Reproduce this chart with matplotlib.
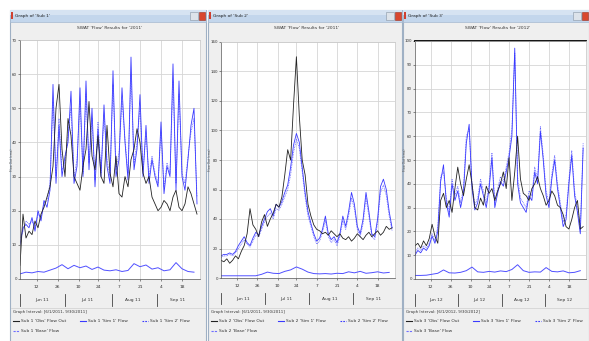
import matplotlib.pyplot as plt
from matplotlib.patches import Rectangle
from matplotlib.lines import Line2D

W, H = 589, 341

# x values (days from 1 June)
days = list(range(0, 120, 2))
low_days = list(range(0, 120, 4))

tick_days = [11, 25, 39, 52, 66, 80, 94, 108]
tick_labels = ["12", "26", "10", "24", "7", "21", "4", "18"]
month_edges = [0, 30, 61, 91]
month_mids = [15, 45, 75, 105]

# window 1
obs_1 = [4, 19, 12, 14, 13, 17, 15, 19, 21, 24, 27, 33, 50, 57, 38, 30, 47, 42, 30, 28,
         26, 33, 38, 52, 36, 32, 42, 30, 28, 45, 31, 27, 36, 25, 24, 30, 27, 35, 38, 44,
         40, 31, 28, 30, 24, 22, 20, 21, 23, 22, 20, 24, 26, 21, 20, 22, 27, 25, 22, 19]
sim1_1 = [10, 15, 16, 15, 18, 14, 20, 17, 23, 21, 26, 57, 28, 45, 30, 36, 40, 55, 28, 33,
          56, 30, 58, 32, 50, 27, 44, 30, 51, 33, 28, 61, 30, 35, 56, 40, 29, 65, 32, 38,
          54, 30, 45, 28, 35, 30, 27, 46, 25, 33, 30, 63, 26, 58, 30, 26, 35, 45, 50, 22]
sim2_1 = [12, 14, 17, 16, 17, 15, 19, 18, 22, 23, 28, 52, 30, 47, 32, 34, 42, 50, 30, 35,
          52, 31, 54, 34, 47, 29, 46, 31, 48, 35, 30, 57, 32, 37, 52, 41, 31, 60, 34, 40,
          50, 32, 42, 30, 36, 31, 28, 43, 27, 34, 31, 58, 28, 54, 31, 28, 36, 43, 47, 24]
base_1 = [1.5, 2.0, 1.8, 2.2, 2.0, 2.6, 3.2, 4.2, 3.0, 4.0, 3.3, 3.8, 2.8, 3.5, 2.6,
          2.4, 2.7, 2.2, 2.5, 4.5, 3.6, 4.1, 2.9, 3.3, 2.4, 2.7, 4.8, 3.0, 2.2, 2.0]

# window 2
obs_2 = [12, 11, 13, 10, 12, 15, 13, 18, 22, 30, 47, 36, 33, 28, 38, 43, 35, 40, 44, 50,
         48, 55, 70, 87, 80, 117, 150, 110, 80, 70, 50, 42, 36, 33, 32, 30, 31, 29, 32, 30,
         28, 30, 27, 26, 28, 25, 27, 30, 28, 26, 29, 31, 28, 30, 32, 29, 31, 35, 33, 34]
sim1_2 = [15, 16, 16, 17, 16, 18, 22, 25, 28, 24, 22, 27, 31, 29, 35, 40, 45, 47, 42, 50,
          48, 52, 58, 63, 75, 90, 98, 92, 75, 58, 45, 37, 30, 25, 27, 33, 42, 30, 26, 28,
          24, 30, 42, 35, 45, 58, 50, 35, 30, 40, 58, 45, 30, 28, 40, 62, 67, 60, 45, 34]
sim2_2 = [14, 15, 15, 16, 15, 17, 20, 23, 26, 23, 21, 25, 29, 28, 33, 38, 42, 44, 40, 47,
          46, 50, 55, 60, 70, 85, 94, 88, 72, 55, 42, 35, 28, 23, 25, 31, 39, 28, 24, 26,
          22, 28, 39, 33, 42, 54, 47, 33, 28, 37, 54, 42, 28, 26, 37, 58, 63, 56, 42, 32]
base_2 = [1.5, 1.5, 1.5, 1.5, 1.5, 1.5, 1.5, 2.5, 4.0, 3.2, 3.0, 4.5, 5.5, 7.5, 6.0,
          4.0, 3.0, 2.8, 3.0, 2.7, 3.2, 3.0, 4.2, 3.5, 4.5, 3.2, 3.6, 4.2, 3.4, 3.8]

# window 3
obs_3 = [14, 15, 13, 16, 14, 17, 23, 18, 15, 33, 36, 30, 33, 28, 38, 47, 40, 35, 42, 48,
         40, 30, 29, 34, 31, 39, 36, 38, 33, 37, 40, 45, 38, 51, 33, 45, 60, 42, 36, 35,
         33, 38, 40, 43, 38, 35, 31, 33, 37, 35, 31, 30, 27, 22, 21, 25, 30, 33, 21, 22]
sim1_3 = [10, 12, 11, 13, 12, 14, 18, 15, 20, 41, 48, 32, 26, 40, 33, 37, 30, 36, 57, 65,
          38, 29, 32, 40, 35, 30, 38, 51, 30, 36, 41, 39, 45, 51, 60, 97, 40, 32, 30, 28,
          35, 33, 45, 40, 62, 50, 35, 30, 42, 50, 38, 30, 22, 25, 40, 52, 35, 28, 19, 55]
sim2_3 = [11, 13, 12, 14, 13, 15, 19, 16, 22, 43, 45, 34, 28, 42, 35, 39, 32, 38, 60, 63,
          40, 31, 34, 42, 37, 32, 40, 53, 32, 38, 43, 41, 47, 53, 63, 95, 43, 34, 32, 30,
          37, 35, 47, 42, 64, 52, 37, 32, 44, 52, 40, 32, 24, 27, 42, 54, 37, 30, 21, 57]
base_3 = [1.5, 1.5, 1.6, 2.0, 2.4, 3.8, 2.6, 2.5, 2.8, 3.5, 5.0, 3.0, 2.8, 3.2, 2.9,
          3.4, 3.1, 4.0, 6.0, 3.5, 2.8, 3.0, 2.9, 4.8, 3.2, 3.0, 3.4, 2.6, 2.8, 3.5]

windows = [
    dict(n=1, win=(10, 206), ax=(20, 40, 200, 279), ymax=70, ystep=10,
         obs=obs_1, sim1=sim1_1, sim2=sim2_1, base=base_1,
         months=["Jun 11", "Jul 11", "Aug 11", "Sep 11"], year="2011"),
    dict(n=2, win=(208, 402), ax=(221, 42, 395, 278), ymax=160, ystep=20,
         obs=obs_2, sim1=sim1_2, sim2=sim2_2, base=base_2,
         months=["Jun 11", "Jul 11", "Aug 11", "Sep 11"], year="2011"),
    dict(n=3, win=(403, 589), ax=(415, 41, 586, 279), ymax=100, ystep=10,
         obs=obs_3, sim1=sim1_3, sim2=sim2_3, base=base_3,
         months=["Jun 12", "Jul 12", "Aug 12", "Sep 12"], year="2012"),
]

fig = plt.figure(figsize=(W / 100, H / 100), dpi=100)
fig.patch.set_facecolor('white')


def box(x0, y0, x1, y1, **kw):
    r = Rectangle((x0 / W, 1 - y1 / H), (x1 - x0) / W, (y1 - y0) / H,
                  transform=fig.transFigure, zorder=-5, **kw)
    fig.add_artist(r)


def fline(x0, y0, x1, y1, **kw):
    fig.add_artist(Line2D([x0 / W, x1 / W], [1 - y0 / H, 1 - y1 / H],
                          transform=fig.transFigure, **kw))


def ftext(x, y, s, **kw):
    fig.text(x / W, 1 - y / H, s, **kw)


blue = '#3a3aff'
fs = 3.2

for w in windows:
    wl, wr = w['win']
    # window frame
    box(wl, 10, wr, 345, facecolor='#efefef', edgecolor='#9fb0c4', lw=0.8)
    box(wl, 10, wr, 22, facecolor='#c3d6ec', edgecolor='#a6b9d0', lw=0.5)
    box(wl, 10, wr, 15, facecolor='#d6e3f2', edgecolor='none')
    box(wl + 1, 12, wl + 3, 19, facecolor='#d04030', edgecolor='none')
    box(wr - 16, 12, wr - 8, 20, facecolor='#dde3ea', edgecolor='#8895a5', lw=0.4)
    box(wr - 7, 12, wr - 1, 20, facecolor='#d9472f', edgecolor='#9a3020', lw=0.4)
    ftext(wl + 5, 16, "Graph of 'Sub %d'" % w['n'], fontsize=fs, va='center', color='#222')

    l, t, r, b = w['ax']
    ftext((wl + wr) / 2 + 2, 28, "SWAT 'Flow' Results for '%s'" % w['year'],
          fontsize=fs, ha='center', va='center', color='#333')
    ftext(wl + 2.2, (t + b) / 2, "Flow Out (cms)", fontsize=2.2, rotation=90,
          ha='center', va='center', color='#555')

    ax = fig.add_axes([l / W, 1 - b / H, (r - l) / W, (b - t) / H])
    ax.set_facecolor('white')
    ax.plot(days, w['sim2'], color=blue, lw=0.6, ls=(0, (1, 1)), alpha=0.8)
    ax.plot(days, w['sim1'], color=blue, lw=0.6)
    ax.plot(days, w['obs'], color='#222222', lw=0.6)
    ax.plot(low_days, w['base'], color='#5050ff', lw=0.7)

    ax.set_xlim(0, 120)
    ax.set_ylim(0, w['ymax'])
    ax.set_yticks(range(0, w['ymax'] + 1, w['ystep']))
    ax.set_xticks(tick_days)
    ax.set_xticklabels(tick_labels)
    ax.tick_params(labelsize=fs, length=1.5, width=0.4, pad=1.0, colors='#333')
    ax.tick_params(axis='y', labelsize=2.9, pad=0.8)
    ax.tick_params(axis='x', pad=3)
    ax.grid(True, color='#d6d6d6', lw=0.6)
    ax.set_axisbelow(True)
    for s in ['top', 'right']:
        ax.spines[s].set_color('#c8c8c8')
    for s in ['left', 'bottom']:
        ax.spines[s].set_color('#555555')
    for s in ax.spines.values():
        s.set_linewidth(0.5)
    if w['n'] == 3:
        ax.axhline(w['ymax'], color='black', lw=1.3, clip_on=False)

    # month band
    tr = ax.get_xaxis_transform()
    for x in month_edges:
        ax.plot([x, x], [-0.062, -0.112], color='#444', lw=0.6, transform=tr, clip_on=False)
    for x, m in zip(month_mids, w['months']):
        ax.text(x, -0.088, m, transform=tr, fontsize=fs, ha='center', va='center', color='#333')

    fline(wl + 1, 308, wr - 1, 308, color='#d4d4d4', lw=0.6)
    ftext(wl + 3, 312, "Graph Interval: [6/1/%s, 9/30/%s]" % (w['year'], w['year']),
          fontsize=2.8, va='center', color='#333')

    # legend
    labels = ["Sub %d 'Obs' Flow Out" % w['n'], "Sub %d 'Sim 1' Flow" % w['n'],
              "Sub %d 'Sim 2' Flow" % w['n'], "Sub %d 'Base' Flow" % w['n']]
    styles = [('#222222', '-'), (blue, '-'), (blue, (0, (1.5, 1))), ('#6f6fff', (0, (2, 1)))]
    pos = [(wl + 3, 321), (wl + 70, 321), (wl + 132, 321), (wl + 3, 331)]
    for (x, y), lab, (c, ls) in zip(pos, labels, styles):
        fline(x, y, x + 6, y, color=c, ls=ls, lw=0.8)
        ftext(x + 8, y, lab, fontsize=fs, va='center', color='#333')

fig.savefig('out.png', dpi=100)
